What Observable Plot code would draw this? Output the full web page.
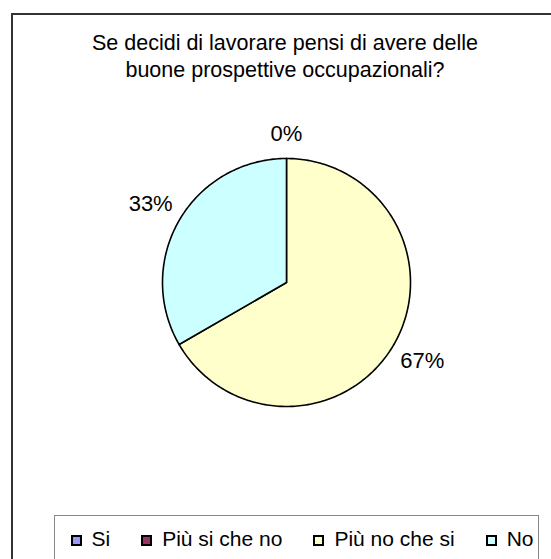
<!DOCTYPE html>
<html><head><meta charset="utf-8">
<script src="https://cdn.jsdelivr.net/npm/d3@7"></script>
<script src="https://cdn.jsdelivr.net/npm/@observablehq/plot@0.6"></script>
<style>
body{margin:0;background:#fff;font-family:"Liberation Sans",Arial,sans-serif;}
#page{position:relative;width:551px;height:559px;overflow:hidden;background:#fff;}
#frame{position:absolute;left:11px;top:13px;width:700px;height:700px;border-left:2px solid #333;border-top:2px solid #333;}
#title{position:absolute;left:0;width:570px;top:30px;text-align:center;font-size:21.5px;letter-spacing:0;line-height:27px;color:#000;}
#chart{position:absolute;left:0;top:100px;}
#legend{position:absolute;left:54px;top:515px;width:485px;height:100px;border:1.5px solid #888;box-sizing:border-box;}
#legend .items{position:absolute;left:15.5px;top:11px;display:flex;align-items:center;font-size:21px;letter-spacing:0;white-space:nowrap;line-height:24px;}
#legend .item{display:flex;align-items:center;margin-right:31px;}
#legend .sw{width:7px;height:7px;border:2px solid #000;margin-right:10px;margin-top:2px;}
</style></head>
<body>
<div id="page">
  <div id="frame"></div>
  <div id="title">Se decidi di lavorare pensi di avere delle<br>buone prospettive occupazionali?</div>
  <div id="chart"></div>
  <div id="legend"><div class="items"></div></div>
</div>
<script>
const categories = ["Si", "Più si che no", "Più no che si", "No"];
const values = [0, 0, 2, 1];
const colors = ["#9999FF", "#993366", "#FFFFCC", "#CCFFFF"];

const total = d3.sum(values);
const arcs = d3.pie().sort(null).value(d => d)(values);

// polygon points for each slice (angles clockwise from 12 o'clock)
const slicePts = [];
arcs.forEach((a, i) => {
  slicePts.push({cat: categories[i], x: 0, y: 0});
  const n = Math.max(1, Math.ceil((a.endAngle - a.startAngle) / (Math.PI / 180)));
  for (let k = 0; k <= n; k++) {
    const t = a.startAngle + (a.endAngle - a.startAngle) * k / n;
    slicePts.push({cat: categories[i], x: Math.sin(t), y: Math.cos(t)});
  }
});

// labels; coincident zero-value labels are drawn once
const seen = new Set();
const labels = [];
arcs.forEach((a, i) => {
  const m = (a.startAngle + a.endAngle) / 2;
  const key = m.toFixed(4);
  if (seen.has(key)) return;
  seen.add(key);
  const k = 1.2 + 0.075 * Math.abs(Math.sin(m));
  labels.push({cat: categories[i], x: k * Math.sin(m), y: k * Math.cos(m),
               text: Math.round(values[i] / total * 100) + "%"});
});

const chart = Plot.plot({
  width: 551,
  height: 400,
  marginLeft: 162,
  marginRight: 141,
  marginTop: 58,
  marginBottom: 94,
  x: {domain: [-1, 1], axis: null},
  y: {domain: [-1, 1], axis: null},
  color: {domain: categories, range: colors},
  style: {fontFamily: '"Liberation Sans", Arial, sans-serif', background: "transparent", overflow: "visible"},
  marks: [
    Plot.line(slicePts, {x: "x", y: "y", z: "cat", fill: "cat", stroke: "#000", strokeWidth: 1.6, curve: "linear-closed", strokeLinejoin: "round"}),
    Plot.text(labels, {x: "x", y: "y", text: "text", fontSize: 22, fill: "#000", textAnchor: "middle", lineAnchor: "middle"})
  ]
});
document.getElementById("chart").appendChild(chart);

const items = d3.select("#legend .items");
categories.forEach((c, i) => {
  const it = items.append("div").attr("class", "item");
  it.append("div").attr("class", "sw").style("background", colors[i]);
  it.append("span").text(c);
});
</script>
</body></html>
